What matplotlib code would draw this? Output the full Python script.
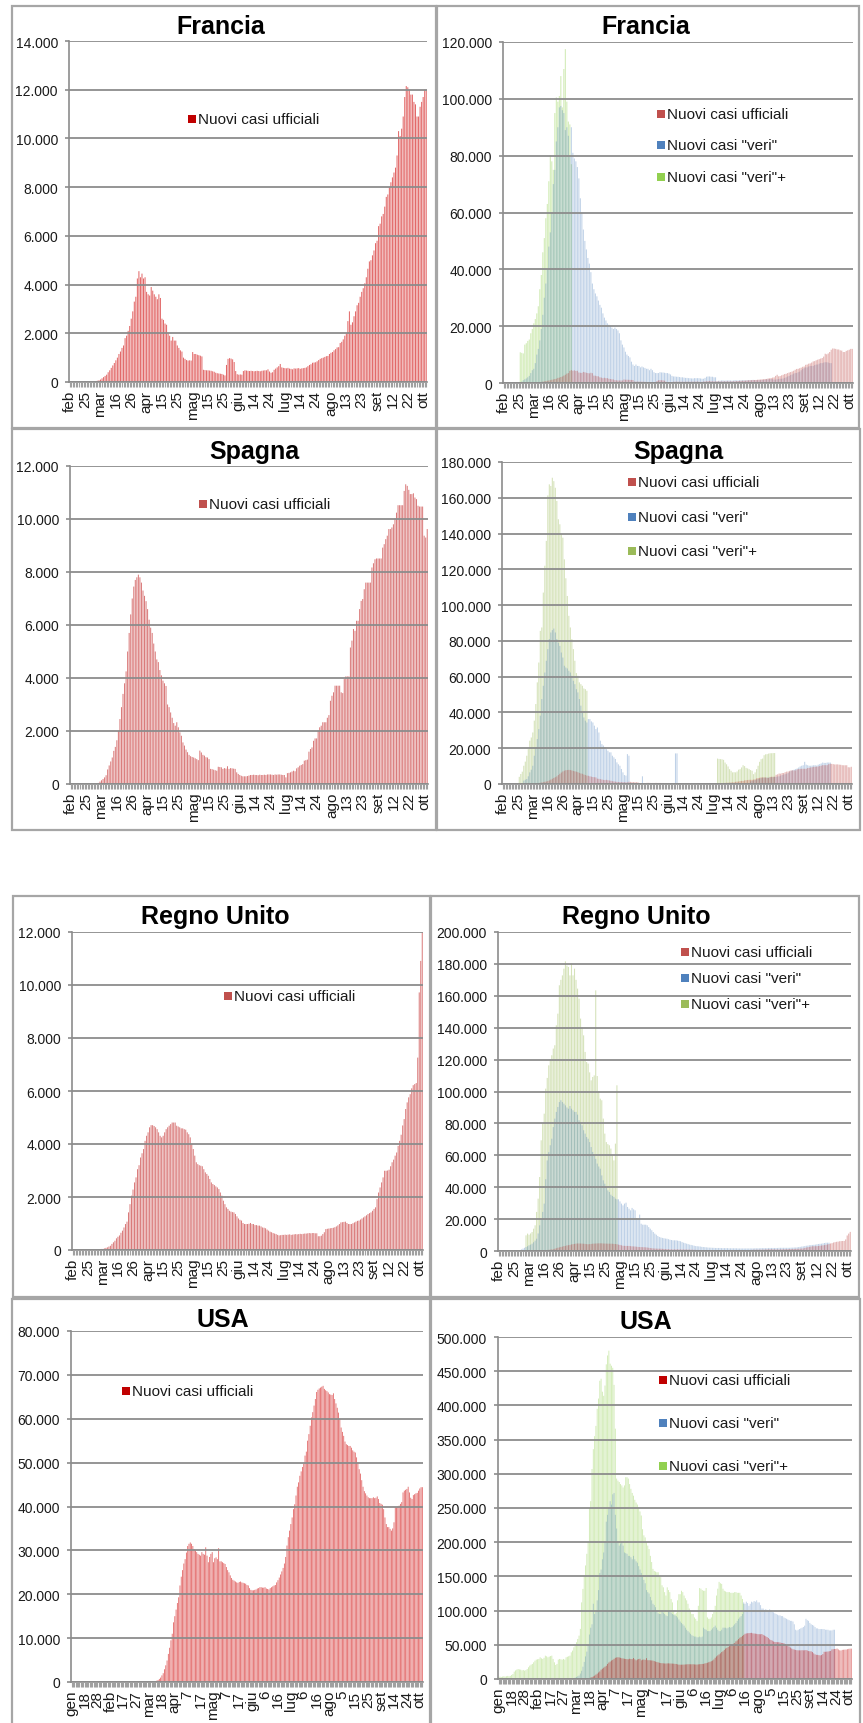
import numpy as np
import matplotlib
matplotlib.use('Agg')
import matplotlib.pyplot as plt
from matplotlib.patches import Rectangle

W, H = 863, 1724
plt.rcParams['font.family'] = ['Liberation Sans', 'DejaVu Sans']

# ---------------- data ----------------
N_EU = 233   # daily bars, feb 15 ->
N_US = 273   # daily bars, gen ->

EU_LABELS = ['feb', '25', 'mar', '16', '26', 'apr', '15', '25', 'mag', '15', '25', 'giu',
             '14', '24', 'lug', '14', '24', 'ago', '13', '23', 'set', '12', '22', 'ott']
US_LABELS = ['gen', '18', '28', 'feb', '17', '27', 'mar', '18', 'apr', '7', '17', 'mag', '7',
             '17', 'giu', '6', '16', 'lug', '6', '16', 'ago', '5', '15', '25', 'set', '14', '24', 'ott']

# Francia - nuovi casi ufficiali (from index 0)
FR_OFF = [0] * 15 + [10, 20, 30, 50, 70,
    100, 150, 200, 250, 300, 400, 480, 580, 680, 780,
    890, 1000, 1150, 1250, 1400, 1500, 1800, 1900, 2100, 2300,
    2600, 2900, 3300, 3500, 4250, 4550, 4300, 4450, 4250, 4300,
    3700, 3600, 3550, 3900, 3750, 3600, 3500, 3400, 3600, 3450,
    2600, 2550, 2400, 2350, 2000, 1900, 1700, 1850, 1700, 1700,
    1500, 1400, 1300, 1250, 1000, 950, 900, 880, 890, 880,
    1230, 1150, 1150, 1120, 1100, 1080, 1050, 500, 490, 480,
    480, 470, 460, 440, 420, 380, 360, 350, 340, 330,
    300, 270, 700, 950, 980, 960, 930, 820, 450, 320,
    300, 310, 300, 450, 480, 470, 460, 450, 460, 450,
    440, 450, 460, 450, 440, 460, 470, 480, 480, 520,
    430, 380, 400, 500, 550, 600, 650, 740, 600, 580,
    570, 560, 580, 550, 540, 520, 560, 550, 560, 570,
    540, 560, 570, 580, 600, 650, 700, 730, 790, 800,
    810, 850, 900, 950, 980, 1000, 1030, 1060, 1070, 1150,
    1200, 1230, 1300, 1350, 1420, 1430, 1600, 1650, 1750, 1900,
    2000, 2500, 2900, 2350, 2450, 2700, 2900, 3150, 3250, 3500,
    3700, 3850, 4050, 4300, 4650, 4950, 5000, 5200, 5400, 5700,
    5800, 6400, 6500, 6800, 6900, 7200, 7600, 7700, 8000, 8200,
    8400, 8600, 8800, 9300, 10300, 10100, 10400, 10900, 11700, 12150,
    12100, 12000, 11800, 11800, 11500, 11400, 10900, 10900, 11300, 11500,
    11700, 12000, 12000]
# Francia - nuovi casi "veri" (thousands, from index 12)
FR_VERI_START = 12
FR_VERI = [0.5, 1.0, 1.3, 1.6, 2.0, 2.5, 3.5, 4.5,
    5, 7, 10, 12, 15, 19, 24, 30, 35, 40,
    48, 53, 60, 70, 75, 85, 90, 97, 97.5, 96,
    95, 89, 90, 87, 80, 90, 81, 79, 78, 76,
    72, 65, 60, 54, 50, 47, 44, 42, 39, 35,
    33, 31.5, 30.5, 29, 27.5, 26.5, 24.5, 23, 22, 21,
    20.5, 20, 19.5, 19, 19.5, 19, 18.5, 17.5, 15, 13.5,
    12.5, 11, 10, 9.5, 9, 7.5, 6.5, 6, 6.5, 6,
    6, 5.5, 5.8, 5.5, 5.3, 5, 5, 4.5, 5, 4.5,
    3.8, 3.5, 3.5, 3.5, 3.8, 3.7, 3.7, 3.6, 3.5, 3.5,
    3.3, 3, 2.5, 2.3, 2.3, 2.2, 2.2, 2.1, 2, 2,
    1.9, 1.8, 1.8, 1.7, 1.7, 1.6, 1.6, 1.7, 1.7, 1.7,
    1.7, 1.6, 1.5, 1.5, 1.8, 2.2, 2.3, 2.3, 2.2, 2.2,
    2, 2, 0.6, 0.8, 0.8, 0.9, 0.9, 0.8, 0.9, 0.9,
    0.9, 0.9, 0.8, 0.9, 1, 0.9, 0.9, 1, 0.9, 1,
    1, 0.9, 1, 1, 1, 1, 1.1, 1, 1, 1,
    1, 1, 1.1, 1.1, 1.2, 1.3, 1.3, 1.4, 1.4, 1.3,
    1.2, 1.2, 1.3, 1.4, 1.5, 1.5, 1.6, 1.8, 2, 2.3,
    2.5, 2.8, 3, 3.3, 3.5, 3.5, 3.8, 4, 4.5, 5,
    5.2, 5.5, 5.5, 5.8, 6, 6, 6, 6.3, 6.5, 6.5,
    6.8, 7, 7, 7.2, 7.3, 7.3, 7.2, 7, 7]
# Francia - nuovi casi "veri"+ (thousands, from index 11)
FR_VERIP_START = 11
FR_VERIP = [10.8, 10.6, 10.4, 13.5, 14, 14.8, 15.3, 17.5, 19, 21, 22.5, 24.5, 27, 33, 38,
    46, 51, 58, 63, 71, 80, 78, 75, 95, 100.5, 99, 101, 108, 97, 110.5, 117.5, 99, 92, 91, 77]

# Spagna
ES_OFF = [0] * 17 + [10, 40, 90,
    140, 190, 250, 330, 550, 700, 850, 1000, 1250, 1400,
    1650, 2000, 2450, 2900, 3400, 3800, 4250, 5000, 5700, 6400,
    7000, 7450, 7700, 7800, 7900, 7800, 7600, 7300, 7100, 6900,
    6600, 6200, 5900, 5700, 5300, 5000, 4700, 4600, 4300, 4100,
    3900, 3800, 3700, 3000, 2900, 2700, 2500, 2300, 2200, 2330,
    2140, 1950, 1820, 1570, 1450, 1300, 1200, 1100, 1050, 1020,
    1000, 970, 940, 900, 1260, 1190, 1100, 1070, 1010, 1000,
    940, 570, 560, 540, 520, 500, 650, 640, 630, 570,
    600, 580, 670, 570, 600, 590, 580, 570, 440, 380,
    340, 310, 290, 290, 290, 300, 320, 340, 340, 350,
    340, 340, 330, 350, 340, 340, 350, 340, 360, 360,
    360, 350, 340, 360, 350, 360, 360, 350, 340, 340,
    250, 410, 420, 440, 470, 500, 480, 590, 630, 690,
    720, 750, 880, 900, 920, 1220, 1320, 1380, 1630, 1720,
    1720, 2010, 2140, 2200, 2330, 2330, 2330, 2500, 2600, 3140,
    3330, 3460, 3710, 3710, 3710, 3710, 3460, 3430, 3960, 4060,
    4060, 4060, 5150, 5410, 5850, 5780, 6160, 6160, 6600, 6910,
    6980, 7350, 7600, 7600, 7600, 7600, 8170, 8330, 8480, 8510,
    8510, 8510, 8510, 8920, 9050, 9240, 9370, 9620, 9620, 9680,
    9800, 10020, 10240, 10520, 10520, 10520, 10520, 11060, 11310, 11250,
    11100, 10940, 10940, 10970, 10810, 10750, 10500, 10470, 10470, 10470,
    9370, 9300, 9620]
ES_VERI_START = 14
ES_VERI = [1.9, 2.4, 2.8, 4.3, 6.5, 8,
    10.2, 15.8, 20.5, 25.1, 30.7, 38.2, 47.5, 54.9, 62.3, 68.9,
    75.4, 81, 84.7, 86, 86.9, 84.7, 81, 79, 77.2, 73.5,
    70.7, 66.1, 65.1, 64.6, 63.3, 62.3, 60.5, 57.7, 55.8, 53,
    51.2, 47.5, 43.8, 40, 37.2, 35.4, 34.4, 36.3, 36.3, 35,
    34.4, 32.6, 30.7, 31.6, 28.8, 24.2, 22.3, 21.5, 20.5, 19.5,
    18.6, 17.7, 17.7, 15.8, 14.9, 14, 12.1, 11, 10.2, 8.4,
    6.5, 5, 4.7, 16.7, 15.8, 0, 0, 0, 0, 0,
    0, 0, 0, 4.3, 0, 0, 0, 0, 0, 0,
    0, 0, 0, 0, 0, 0, 0, 0, 0, 0,
    0, 0, 0, 0, 0, 17.1, 17.1, 0, 0, 0,
    0, 0, 0, 0, 0, 0, 0, 0, 0, 0,
    0, 0, 0, 0, 0, 0, 0, 0, 0, 0,
    0, 0, 0, 0, 0, 0, 0, 0, 0, 0,
    0, 0, 0, 0, 0, 0, 0, 0, 0, 0,
    0, 0, 0, 0, 0, 1.5, 1.8, 2, 2.2, 2.5,
    2.8, 3, 3.3, 3.5, 3.5, 3.5, 3.6, 3.6, 3.7, 3.8,
    3.8, 4, 4, 4.2, 4.3, 4.7, 5, 5.3, 5.5, 5.8,
    6.1, 6.8, 7.4, 7.7, 8, 8.4, 8.7, 9.2, 9.8, 10.2,
    10.5, 12.4, 10.8, 10.5, 10.2, 10.2, 10.3, 10.5, 10.5, 10.3,
    10.8, 11.1, 11.5, 12, 11.8, 11.8, 12, 12, 12]
ES_VERIP_START = 11
ES_VERIP = [4, 5.6, 6.9, 10.2, 12.5, 15.8, 19.5, 24.2, 26,
    28.8, 35.4, 44.7, 56.8, 67.9, 85.6, 87.5, 107, 122, 135.9,
    161.3, 167.5, 166.6, 171.2, 169.3, 165.6, 158.2, 148, 145.2, 139.6,
    137.7, 125.6, 115, 105.1, 94, 87.5, 81, 75.4, 68.9, 62,
    60.5, 56.8, 55.8, 54.9, 53.4, 53, 52.1]
ES_VERIP2_START = 143
ES_VERIP2 = [14.2, 14, 13.9, 13.8, 13.5, 12, 11, 9.8, 8.3, 7.4, 6.5, 6.6, 6.5, 7, 8, 8.3,
    9.25, 10.5, 10, 9, 8.7, 8.3, 7.8, 7.4, 5.5, 6.5, 8.3, 10.2, 12.4, 13.9, 14.2, 16.1,
    16.6, 16.7, 17, 17.2, 17.2, 17.3, 17.3]

# Regno Unito
UK_OFF = [0] * 18 + [30, 40,
    40, 60, 80, 100, 130, 160, 230, 290, 350, 440,
    500, 550, 650, 730, 850, 980, 1070, 1420, 1730, 2050,
    2280, 2550, 2740, 3050, 3200, 3490, 3650, 3810, 4120, 4310,
    4440, 4630, 4710, 4710, 4680, 4630, 4560, 4440, 4310, 4250,
    4310, 4440, 4560, 4630, 4690, 4750, 4810, 4810, 4810, 4690,
    4660, 4630, 4590, 4590, 4560, 4540, 4440, 4370, 4250, 4000,
    3810, 3560, 3310, 3240, 3200, 3180, 3160, 3050, 2930, 2870,
    2800, 2680, 2550, 2490, 2450, 2400, 2360, 2300, 2170, 2050,
    1860, 1730, 1610, 1550, 1480, 1450, 1430, 1420, 1360, 1270,
    1190, 1140, 1110, 1020, 980, 980, 980, 990, 1020, 980,
    980, 940, 940, 920, 920, 890, 850, 840, 820, 770,
    730, 690, 670, 640, 620, 600, 570, 550, 560, 570,
    570, 580, 570, 580, 590, 570, 580, 590, 600, 590,
    600, 610, 600, 610, 620, 620, 630, 640, 630, 640,
    640, 630, 630, 520, 520, 540, 600, 670, 790, 800,
    810, 820, 830, 840, 860, 890, 930, 980, 1040, 1050,
    1060, 1070, 1020, 980, 980, 980, 1010, 1040, 1070, 1100,
    1110, 1150, 1190, 1230, 1270, 1310, 1360, 1390, 1420, 1480,
    1550, 1610, 1920, 2170, 2360, 2550, 2740, 2990, 2990, 3000,
    3030, 3160, 3310, 3410, 3560, 3680, 3930, 4120, 4350, 4700,
    4940, 5320, 5570, 5760, 5880, 6100, 6220, 6260, 6300, 7260,
    9720, 10910, 11980]
UK_VERI_START = 15
UK_VERI = [1, 1.5, 2, 2.5, 3,
    3.6, 4, 4.6, 5.5, 6.5, 7.7, 11, 16.1, 20, 24.5,
    29.7, 45, 56.8, 62, 66.3, 70.4, 77.7, 83, 87.2, 90.3,
    93.4, 94.5, 93.4, 92.4, 91.3, 90, 89.2, 90.9, 89.2, 88.2,
    87.2, 87.2, 85.5, 82, 80.9, 78.8, 75.7, 73.6, 71.5, 70.4,
    68.3, 65.2, 62.1, 60, 57.8, 54.8, 53, 51.6, 47.4, 44.3,
    42.2, 40.1, 38, 37, 35.3, 34.5, 33.9, 32.8, 32.4, 32.4,
    31.1, 29.7, 28.6, 29.7, 30.3, 27.6, 26.5, 25.5, 27, 26.1,
    25.5, 20.7, 20.3, 22.8, 17.1, 16.5, 16.5, 16.5, 16.1, 15,
    14, 13, 11.9, 10.9, 10.2, 9.4, 8.8, 8.5, 8.2, 8,
    7.8, 7.7, 7.4, 7.1, 6.9, 6.7, 6.7, 6.7, 6.5, 6.3,
    6.1, 5.6, 5.2, 4.9, 4.6, 4.3, 4, 3.8, 3.6, 3.3,
    3.1, 3, 2.9, 2.8, 2.6, 2.5, 2.4, 2.3, 2.2, 2.1,
    2.1, 2, 2, 1.9, 1.9, 1.9, 1.9, 1.8, 1.8, 1.8,
    1.8, 1.8, 1.7, 1.7, 1.7, 1.7, 1.7, 1.7, 1.6, 1.6,
    1.6, 1.6, 1.6, 1.6, 1.6, 1.6, 1.6, 1.6, 1.6, 1.7,
    1.7, 1.7, 1.7, 1.8, 1.8, 1.8, 1.8, 1.8, 1.9, 1.9,
    1.9, 1.9, 1.9, 1.9, 1.9, 2, 2, 2, 2, 2,
    2, 2, 2, 2.1, 2.1, 2.2, 2.2, 2.3, 2.5, 2.6,
    2.8, 2.9, 3.1, 3.3, 3.4, 3.6, 3.7, 3.8, 3.9, 4,
    4.2, 4.4, 4.5, 4.6, 4.8, 5, 5.2, 5.2, 5.2]
UK_VERIP_START = 18
UK_VERIP = [9.8, 10.9,
    10.2, 11, 11.9, 14, 16.1, 24.5, 32.8, 46.4, 69.4, 80,
    86.1, 101.8, 108.5, 116.4, 120, 122.7, 126.9, 129, 141.5, 148.8,
    166.6, 170, 172.8, 177, 181.6, 179, 178.1, 172.8, 180.2, 172.8,
    177, 170, 164.5, 158.2, 145.7, 140, 135.2, 124.8, 118.5, 117.5,
    112, 107, 109.1, 110.1, 163.4, 109.7, 100, 95.5, 94.5, 83,
    73.6, 68.3, 67, 66.3, 64.2, 60, 56.8, 67.3, 103.9]

# USA
US_OFF = [0] * 64 + [100, 150, 300, 450, 700, 1000,
    1500, 2000, 2900, 3800, 4900, 6400, 7800, 9500, 11000, 13600,
    15000, 16500, 18000, 19300, 22000, 24000, 25500, 27000, 28000, 29500,
    31000, 31500, 31800, 31500, 31000, 30300, 30000, 29600, 29200, 29000,
    28800, 29600, 29200, 29000, 30700, 28800, 27300, 28500, 29200, 29600,
    27300, 28200, 28400, 28000, 30500, 27500, 27500, 27300, 27100, 26900,
    26200, 25500, 25000, 24300, 23700, 23300, 23100, 22900, 22700, 22600,
    22800, 22900, 22700, 22600, 22500, 22400, 22100, 22000, 21400, 21000,
    20900, 20900, 21000, 21100, 21300, 21400, 21600, 21600, 21500, 21500,
    21600, 21300, 21200, 21100, 21400, 21600, 21800, 22000, 22100, 22700,
    23200, 23800, 24500, 25200, 26000, 27000, 28500, 31100, 33000, 34500,
    36000, 37500, 39400, 40500, 42500, 44500, 45500, 47000, 48000, 49000,
    49700, 51600, 52500, 55000, 56500, 58400, 60300, 61500, 63000, 64500,
    66100, 66600, 66900, 67100, 67300, 67500, 66800, 66500, 66300, 66000,
    65600, 65500, 65400, 65800, 64500, 63500, 62500, 61400, 59900, 58000,
    57000, 56100, 54800, 54200, 54000, 53800, 53800, 53400, 52800, 52500,
    52300, 51200, 50000, 48500, 47500, 46000, 44500, 43500, 43000, 42500,
    42100, 41900, 41900, 41900, 42100, 41900, 42000, 42300, 41700, 40800,
    40600, 40400, 39400, 37500, 36000, 35300, 35300, 34900, 34500, 35000,
    36400, 39800, 39800, 40000, 40200, 40600, 41000, 43200, 43600, 43800,
    44000, 44500, 43200, 42000, 41700, 42600, 42800, 43000, 43100, 43600,
    44100, 44400, 44400]
US_VERI_START = 58
US_VERI = [1, 2,
    3, 4, 5, 8, 12, 18, 25, 33, 40, 50,
    65, 75, 80, 110, 95, 98, 115, 130, 155, 160,
    175, 185, 200, 230, 240, 250, 260, 255, 270, 272,
    240, 220, 200, 195, 198, 200, 195, 185, 184, 183,
    180, 180, 178, 175, 180, 175, 172, 170, 165, 160,
    155, 150, 145, 140, 130, 127, 125, 120, 115, 110,
    108, 105, 100, 96, 95, 95, 100, 97, 95, 93,
    92, 100, 98, 97, 95, 94, 93, 92, 90, 87,
    84, 82, 80, 78, 75, 72, 70, 68, 66, 64,
    63, 62, 62, 61, 61, 62, 61, 62, 75, 73,
    72, 70, 70, 70, 72, 74, 76, 78, 75, 72,
    70, 70, 72, 75, 75, 75, 74, 75, 76, 75,
    76, 78, 80, 82, 85, 88, 90, 92, 95, 112,
    110, 113, 111, 107, 110, 113, 112, 114, 113, 115,
    112, 112, 108, 103, 103, 101, 102, 101, 100, 102,
    100, 98, 97.5, 96, 95, 94, 93, 93, 92, 92,
    90, 89, 88, 87, 86, 85, 85, 84, 80, 72,
    71, 72, 73, 74, 75, 76, 78, 88, 86, 85,
    82, 80, 79, 78, 76, 74, 74, 73, 73, 73,
    73, 73, 72, 72, 72, 71, 71, 71, 72, 72]
US_VERIP_START = 0
US_VERIP = [3, 3.5, 3, 3.5, 4, 3.5, 4, 4.5, 4, 4.5,
    5.9, 7.3, 10.7, 12.5, 13.7, 14.6, 14, 13.7, 12.7, 13.2,
    12.2, 13, 14.6, 17.1, 19.5, 21, 22, 24.4, 26.8, 28.3,
    28.8, 29.3, 31.7, 30.2, 29.3, 31, 34.1, 33.2, 31.7, 32.7,
    33.5, 34.1, 29.3, 24.4, 20.5, 22, 28.3, 29.3, 28.8, 28.3,
    29.3, 28.3, 31.7, 32.5, 33.2, 34.1, 39, 41.5, 46.3, 50,
    53.7, 58.5, 63.4, 73.2, 112, 131.7, 151, 166, 183, 200,
    250, 260, 307, 336, 355, 370, 395, 410, 436, 439,
    420, 414, 429, 460, 473, 480, 461, 458, 455, 430,
    366, 293, 290, 288, 285, 283, 280, 283, 295, 295,
    293, 285, 278, 272, 268, 262, 258, 255, 251, 245,
    239, 219, 210, 207, 200, 195, 190, 180, 171, 161,
    158, 157, 156, 156, 150, 149, 137, 134, 127, 122,
    134, 130, 127, 117, 112, 100, 95, 97, 115, 124,
    124, 129, 127, 122, 118, 115, 110, 103, 100, 95,
    95, 90, 88, 85, 107, 133, 132, 130, 129, 129,
    133, 90, 88, 88, 90, 95, 98, 107, 122, 132,
    142, 140, 139, 132, 129, 128, 127, 127, 127, 126,
    126, 126, 127, 127, 126, 126, 126, 122, 117, 110]

K = 1000  # thousands -> units for the "veri" series

# ---------------- helpers ----------------
def series(n, vals, start=0, scale=1.0):
    a = np.zeros(n)
    v = np.asarray(vals, dtype=float) * scale
    v = v[:max(0, n - start)]
    a[start:start + len(v)] = v
    return a

fig = plt.figure(figsize=(W / 100, H / 100), dpi=100)

def px_axes(x0, y0, x1, y1):
    return fig.add_axes([x0 / W, 1 - y1 / H, (x1 - x0) / W, (y1 - y0) / H])

def fmt(v):
    return f"{int(v):,}".replace(',', '.')

GRID = '#8C8C8C'

def style(ax, n, ymax, ystep, labels):
    ax.set_xlim(-0.5, n - 0.5)
    ax.set_ylim(0, ymax)
    yt = np.arange(0, ymax + 1, ystep)
    ax.set_yticks(yt)
    ax.set_yticklabels([fmt(v) for v in yt], fontsize=10, color='#1a1a1a')
    ax.set_xticks(np.arange(0, 10 * len(labels), 10))
    ax.set_xticklabels(labels, rotation=90, fontsize=11, color='#1a1a1a')
    ax.set_xticks(np.arange(n), minor=True)
    ax.tick_params(axis='x', which='both', length=3.5, color='#A0A0A0', width=0.8, pad=2)
    ax.tick_params(axis='y', length=3, color=GRID, width=1.2, pad=5)
    ax.yaxis.grid(True, color=GRID, lw=1.3)
    ax.set_axisbelow(False)
    for s in ('top', 'right'):
        ax.spines[s].set_visible(False)
    for s in ('left', 'bottom'):
        ax.spines[s].set_color(GRID)
        ax.spines[s].set_linewidth(1.2)
    ax.patch.set_alpha(0)

def frame(x0, y0, x1, y1):
    fig.add_artist(Rectangle((x0 / W, 1 - y1 / H), (x1 - x0) / W, (y1 - y0) / H,
                             transform=fig.transFigure, fill=False, ec='#A6A6A6', lw=1.6))

def title(cx, cy, text):
    fig.text(cx / W, 1 - cy / H, text, ha='center', va='center', fontsize=18,
             fontweight='bold', color='black')

def legend(x, ys, items):
    for y, (col, lab) in zip(ys, items):
        fig.add_artist(Rectangle((x / W, 1 - (y + 4) / H), 8 / W, 8 / H,
                                 transform=fig.transFigure, color=col, lw=0))
        fig.text((x + 10) / W, 1 - y / H, lab, ha='left', va='center', fontsize=11,
                 color='#1a1a1a')

L_OFF = 'Nuovi casi ufficiali'
L_VERI = 'Nuovi casi "veri"'
L_VERIP = 'Nuovi casi "veri"+'

def bars(ax, x, y, color, alpha, width=0.7):
    ax.bar(x, y, width=width, color=color, alpha=alpha, lw=0, snap=False)

def left_panel(box, n, off, ymax, ystep, labels, color):
    ax = px_axes(*box)
    x = np.arange(n)
    bars(ax, x, series(n, off), color, 0.68, 0.66)
    style(ax, n, ymax, ystep, labels)
    return ax

def right_panel(box, n, off, veri, verip, ymax, ystep, labels, cg, cb, cr):
    ax = px_axes(*box)
    x = np.arange(n)
    bars(ax, x, verip, cg, 0.42)
    bars(ax, x, veri, cb, 0.36)
    bars(ax, x, series(n, off), cr, 0.45)
    style(ax, n, ymax, ystep, labels)
    return ax

# ---------------- frames ----------------
frame(12, 7, 436, 429); frame(437, 7, 859, 429)
frame(12, 430, 436, 831); frame(437, 430, 860, 831)
frame(13, 897, 430, 1298); frame(431, 897, 859, 1298)
frame(12, 1300, 430, 1740); frame(431, 1300, 860, 1740)

# ---------------- Francia ----------------
left_panel((69, 42, 427, 383), N_EU, FR_OFF, 14000, 2000, EU_LABELS, '#D42020')
title(221, 27, 'Francia')
legend(188, [120], [('#C00000', L_OFF)])

right_panel((503, 43, 853, 384), N_EU, FR_OFF,
            series(N_EU, FR_VERI, FR_VERI_START, K),
            series(N_EU, FR_VERIP, FR_VERIP_START, K),
            120000, 20000, EU_LABELS, '#92D050', '#4F81BD', '#C0504D')
title(646, 27, 'Francia')
legend(657, [115, 146, 178], [('#C0504D', L_OFF), ('#4F81BD', L_VERI), ('#92D050', L_VERIP)])

# ---------------- Spagna ----------------
left_panel((70, 467, 428, 785), N_EU, ES_OFF, 12000, 2000, EU_LABELS, '#C83C3C')
title(254, 452, 'Spagna')
legend(199, [505], [('#C0504D', L_OFF)])

es_verip = series(N_EU, ES_VERIP, ES_VERIP_START, K) + series(N_EU, ES_VERIP2, ES_VERIP2_START, K)
right_panel((502, 463, 852, 785), N_EU, ES_OFF,
            series(N_EU, ES_VERI, ES_VERI_START, K), es_verip,
            180000, 20000, EU_LABELS, '#9BBB59', '#4F81BD', '#C0504D')
title(678, 452, 'Spagna')
legend(628, [483, 518, 552], [('#C0504D', L_OFF), ('#4F81BD', L_VERI), ('#9BBB59', L_VERIP)])

# ---------------- Regno Unito ----------------
left_panel((72, 933, 423, 1251), N_EU, UK_OFF, 12000, 2000, EU_LABELS, '#C83C3C')
title(215, 917, 'Regno Unito')
legend(224, [997], [('#C0504D', L_OFF)])

right_panel((498, 933, 851, 1252), N_EU, UK_OFF,
            series(N_EU, UK_VERI, UK_VERI_START, K),
            series(N_EU, UK_VERIP, UK_VERIP_START, K),
            200000, 20000, EU_LABELS, '#9BBB59', '#4F81BD', '#C0504D')
title(636, 917, 'Regno Unito')
legend(681, [953, 979, 1005], [('#C0504D', L_OFF), ('#4F81BD', L_VERI), ('#9BBB59', L_VERIP)])

# ---------------- USA ----------------
left_panel((71, 1332, 423, 1683), N_US, US_OFF, 80000, 10000, US_LABELS, '#D42020')
title(223, 1320, 'USA')
legend(122, [1392], [('#C00000', L_OFF)])

right_panel((498, 1338, 852, 1680), N_US, US_OFF,
            series(N_US, US_VERI, US_VERI_START, K),
            series(N_US, US_VERIP, US_VERIP_START, K),
            500000, 50000, US_LABELS, '#92D050', '#4F81BD', '#C00000')
title(646, 1322, 'USA')
legend(659, [1381, 1424, 1467], [('#C00000', L_OFF), ('#4F81BD', L_VERI), ('#92D050', L_VERIP)])

fig.savefig('out.png', dpi=100, facecolor='white')
